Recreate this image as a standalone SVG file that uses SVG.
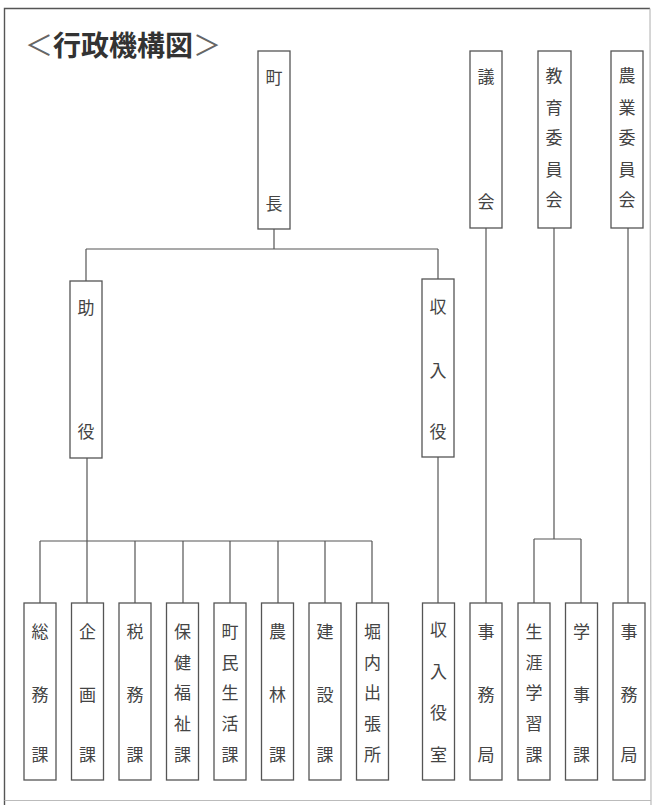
<svg xmlns="http://www.w3.org/2000/svg" width="653" height="806" viewBox="0 0 653 806">
<style>
.bg{fill:#ffffff}
.frame{fill:none;stroke:#555;stroke-width:1.4}
.frame2{fill:none;stroke:#bbb;stroke-width:1.2}
.box{fill:#fff;stroke:#555;stroke-width:1.3}
.ln{fill:none;stroke:#555;stroke-width:1.2}
.t{font-family:"Noto Sans CJK JP","Noto Sans CJK SC",sans-serif;font-size:17px;fill:#444;text-anchor:middle}
.title{font-family:"Noto Sans CJK JP","Noto Sans CJK SC",sans-serif;font-size:28px;fill:#333;font-weight:bold}
.br{font-weight:normal;fill:#666}
</style>
<rect class="bg" x="0" y="0" width="653" height="806"/>
<path class="frame" d="M4.5,805 L4.5,8.5 L650,8.5"/>
<path class="frame2" d="M650,8.5 L651,805 M4.5,800.5 L651,800.5"/>
<text class="title" x="25" y="56"><tspan class="br">＜</tspan>行政機構図<tspan class="br">＞</tspan></text>
<g id="connectors">
<path class="ln" d="M274,229 V249 M86,249 H438 M86,249 V281 M438,249 V279"/>
<path class="ln" d="M87,458 V603 M40,541 H372 M40,541 V603 M135,541 V603 M183,541 V603 M230,541 V603 M278,541 V603 M325,541 V603 M372,541 V603"/>
<path class="ln" d="M438,457 V603"/>
<path class="ln" d="M486,228 V603"/>
<path class="ln" d="M554,228 V539 M534,539 H581 M534,539 V603 M581,539 V603"/>
<path class="ln" d="M628,228 V603"/>
</g>
<g id="chouchou"><rect class="box" x="258" y="51" width="32" height="178"/><text class="t" x="274" y="84">町</text><text class="t" x="274" y="210">長</text></g>
<g id="gikai"><rect class="box" x="470" y="51" width="32" height="177"/><text class="t" x="486" y="83">議</text><text class="t" x="486" y="208">会</text></g>
<g id="kyouiku"><rect class="box" x="538" y="51" width="33" height="177"/><text class="t" x="554" y="82">教</text><text class="t" x="554" y="114">育</text><text class="t" x="554" y="144">委</text><text class="t" x="554" y="176">員</text><text class="t" x="554" y="206">会</text></g>
<g id="nougyou"><rect class="box" x="611" y="51" width="32" height="177"/><text class="t" x="627" y="82">農</text><text class="t" x="627" y="114">業</text><text class="t" x="627" y="144">委</text><text class="t" x="627" y="176">員</text><text class="t" x="627" y="206">会</text></g>
<g id="joyaku"><rect class="box" x="70" y="281" width="32" height="177"/><text class="t" x="86" y="314">助</text><text class="t" x="86" y="438">役</text></g>
<g id="shunyuyaku"><rect class="box" x="422" y="279" width="32" height="178"/><text class="t" x="438" y="313">収</text><text class="t" x="438" y="377">入</text><text class="t" x="438" y="438">役</text></g>
<g id="soumu"><rect class="box" x="24" y="603" width="32" height="177"/><text class="t" x="40" y="638">総</text><text class="t" x="40" y="701">務</text><text class="t" x="40" y="761">課</text></g>
<g id="kikaku"><rect class="box" x="71.5" y="603" width="32" height="177"/><text class="t" x="87.5" y="638">企</text><text class="t" x="87.5" y="701">画</text><text class="t" x="87.5" y="761">課</text></g>
<g id="zeimu"><rect class="box" x="119" y="603" width="32" height="177"/><text class="t" x="135" y="638">税</text><text class="t" x="135" y="701">務</text><text class="t" x="135" y="761">課</text></g>
<g id="hoken"><rect class="box" x="166.5" y="603" width="32" height="177"/><text class="t" x="182.5" y="638">保</text><text class="t" x="182.5" y="669">健</text><text class="t" x="182.5" y="699">福</text><text class="t" x="182.5" y="730">祉</text><text class="t" x="182.5" y="761">課</text></g>
<g id="choumin"><rect class="box" x="214" y="603" width="32" height="177"/><text class="t" x="230" y="638">町</text><text class="t" x="230" y="669">民</text><text class="t" x="230" y="699">生</text><text class="t" x="230" y="730">活</text><text class="t" x="230" y="761">課</text></g>
<g id="nourin"><rect class="box" x="261.5" y="603" width="32" height="177"/><text class="t" x="277.5" y="638">農</text><text class="t" x="277.5" y="701">林</text><text class="t" x="277.5" y="761">課</text></g>
<g id="kensetsu"><rect class="box" x="309" y="603" width="32" height="177"/><text class="t" x="325" y="638">建</text><text class="t" x="325" y="701">設</text><text class="t" x="325" y="761">課</text></g>
<g id="horiuchi"><rect class="box" x="356.5" y="603" width="32" height="177"/><text class="t" x="372.5" y="638">堀</text><text class="t" x="372.5" y="669">内</text><text class="t" x="372.5" y="699">出</text><text class="t" x="372.5" y="730">張</text><text class="t" x="372.5" y="761">所</text></g>
<g id="shunyuyakushitsu"><rect class="box" x="422.5" y="603" width="32" height="177"/><text class="t" x="438.5" y="636">収</text><text class="t" x="438.5" y="678">入</text><text class="t" x="438.5" y="719">役</text><text class="t" x="438.5" y="761">室</text></g>
<g id="gikai-jimukyoku"><rect class="box" x="470" y="603" width="32" height="177"/><text class="t" x="486" y="638">事</text><text class="t" x="486" y="701">務</text><text class="t" x="486" y="761">局</text></g>
<g id="shougai"><rect class="box" x="518" y="603" width="32" height="177"/><text class="t" x="534" y="638">生</text><text class="t" x="534" y="669">涯</text><text class="t" x="534" y="699">学</text><text class="t" x="534" y="730">習</text><text class="t" x="534" y="761">課</text></g>
<g id="gakuji"><rect class="box" x="565.5" y="603" width="32" height="177"/><text class="t" x="581.5" y="638">学</text><text class="t" x="581.5" y="701">事</text><text class="t" x="581.5" y="761">課</text></g>
<g id="nougyou-jimukyoku"><rect class="box" x="613" y="603" width="32" height="177"/><text class="t" x="629" y="638">事</text><text class="t" x="629" y="701">務</text><text class="t" x="629" y="761">局</text></g>
</svg>
